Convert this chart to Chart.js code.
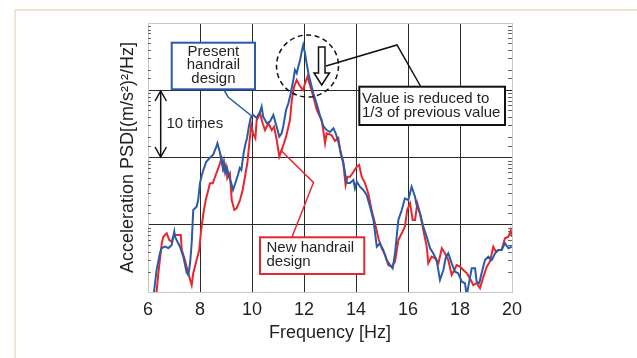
<!DOCTYPE html>
<html><head><meta charset="utf-8">
<script src="https://cdn.jsdelivr.net/npm/chart.js@4/dist/chart.umd.min.js"></script>
<style>
html,body{margin:0;padding:0;background:#fff;}
#wrap{position:relative;width:637px;height:358px;overflow:hidden;}
#frame{position:absolute;left:14px;top:9px;right:-4px;bottom:-4px;border-top:2px solid #efe4cd;border-left:2px solid #efe4cd;}
canvas{position:absolute;left:0;top:0;}
</style></head><body>
<div id="wrap"><div id="frame"></div><canvas id="c" width="637" height="358"></canvas></div>
<script>
// Frequency axis ticks (Hz)
const xTicks = [6, 8, 10, 12, 14, 16, 18, 20];
// Present handrail design (blue)
const blueFreq = [6.23,6.33,6.46,6.53,6.65,6.78,6.85,6.91,6.97,7.01,7.04,7.10,7.23,7.36,7.49,7.55,7.62,7.68,7.74,7.87,7.93,8.00,8.07,8.13,8.24,8.37,8.50,8.63,8.67,8.76,8.82,8.88,8.92,8.97,9.04,9.10,9.20,9.27,9.36,9.46,9.53,9.59,9.68,9.74,9.81,9.87,9.95,10.04,10.18,10.31,10.37,10.43,10.57,10.69,10.82,10.95,11.05,11.14,11.20,11.31,11.40,11.49,11.59,11.65,11.72,11.78,11.85,11.91,11.97,12.04,12.10,12.17,12.23,12.36,12.49,12.62,12.74,12.87,13.00,13.13,13.22,13.32,13.41,13.51,13.64,13.77,13.90,13.96,14.03,14.15,14.28,14.41,14.54,14.67,14.80,14.92,15.05,15.18,15.31,15.41,15.50,15.63,15.76,15.88,16.01,16.14,16.27,16.33,16.46,16.59,16.72,16.85,16.97,17.10,17.23,17.36,17.46,17.55,17.68,17.81,17.93,18.07,18.19,18.26,18.32,18.45,18.58,18.64,18.74,18.83,18.96,19.09,19.22,19.35,19.47,19.60,19.73,19.86,19.99];
const blueVal = [1.0,2.12,3.8,4.51,4.72,4.51,4.72,5.0,6.64,7.88,6.64,5.93,4.72,3.35,1.92,1.79,2.70,5.35,16.6,18.6,23.3,41.8,54.9,65.2,86.6,98.3,109,145,163,122,91.8,69.8,86.6,58.9,69.8,54.9,41.8,32.9,41.8,54.9,69.8,65.2,117,153,195,275,387,429,387,480,569,404,323,341,429,287,204,229,287,509,640,901,1420,2000,1787,2239,2818,3741,4710,3540,2518,1787,1420,901,625,414,294,256,239,272,229,170,121,85.7,41.8,41.8,46.3,34.8,43.7,36.8,32.9,27.7,18.6,11.8,4.72,5.30,4.21,2.99,2.52,2.25,3.76,11.8,16.6,24.7,23.3,36.8,26.1,19.7,14.8,9.35,6.64,4.47,3.76,2.99,1.51,2.12,3.35,3.76,2.67,2.00,1.90,1.42,1.35,0.9,1.20,2.25,2.25,1.42,1.35,1.90,2.99,3.35,2.99,3.76,4.21,4.21,5.30,4.47,4.72];
// New handrail design (red)
const redFreq = [6.33,6.40,6.53,6.59,6.72,6.82,6.91,6.97,7.04,7.17,7.26,7.30,7.42,7.55,7.68,7.74,7.87,7.97,8.03,8.13,8.22,8.32,8.38,8.49,8.58,8.70,8.77,8.83,8.90,8.99,9.05,9.15,9.22,9.32,9.41,9.54,9.64,9.73,9.82,9.91,9.97,10.04,10.13,10.18,10.31,10.41,10.50,10.63,10.76,10.85,10.95,11.05,11.14,11.23,11.31,11.40,11.46,11.53,11.62,11.72,11.82,11.91,11.97,12.04,12.13,12.23,12.36,12.49,12.62,12.68,12.74,12.81,12.87,13.06,13.19,13.32,13.41,13.51,13.60,13.67,13.77,13.90,14.03,14.12,14.22,14.35,14.47,14.60,14.73,14.86,14.99,15.12,15.24,15.37,15.50,15.63,15.76,15.88,15.97,16.08,16.18,16.27,16.36,16.46,16.59,16.72,16.78,16.91,17.04,17.17,17.30,17.42,17.55,17.68,17.78,17.87,18.00,18.13,18.26,18.38,18.51,18.64,18.77,18.90,19.03,19.15,19.28,19.38,19.47,19.60,19.73,19.86,19.95,20.0];
const redVal = [1.0,1.92,5.30,6.64,7.46,5.93,5.60,6.64,7.04,7.04,7.04,4.21,2.99,1.90,1.27,1.90,2.99,4.21,7.46,14.8,23.3,32.9,41.3,41.3,51.8,69.1,82.0,97.3,65.2,77.3,49.1,58.2,23.3,16.6,17.6,23.3,32.9,51.8,82.0,182,304,229,193,361,454,323,256,323,256,287,182,103,129,163,204,287,361,716,1130,1420,1197,1069,1009,1268,1589,1197,802,509,400,361,256,163,229,216,176,195,115,82.0,39.0,51.8,51.8,60.9,73.0,77.3,51.8,41.3,29.4,16.6,10.5,6.29,4.47,3.55,2.52,2.38,2.82,5.93,7.46,9.35,16.6,20.8,11.8,11.8,20.8,14.8,8.36,4.72,2.67,3.35,3.17,2.67,4.47,3.76,2.99,1.79,2.12,2.52,2.38,2.12,1.90,1.60,1.27,1.35,1.14,1.69,2.38,2.82,4.72,3.97,4.21,4.21,6.29,6.64,8.36,6.64];

const FONT = '"Liberation Sans", Arial, sans-serif';
const TXT = '#231f20';
const BLUE = '#2a5ba8';
const RED = '#e8262d';
const LIGHT = '#c8c8c8';
const DARK = '#2a2a2a';

const toXY = (f, v) => f.map((x, i) => ({x: x, y: v[i]}));
const isDecade = v => Math.abs(Math.log10(v) - Math.round(Math.log10(v))) < 1e-9;

const minorTicks = {
  id: 'minorTicks',
  afterDatasetsDraw(chart) {
    const ctx = chart.ctx, ys = chart.scales.y, ca = chart.chartArea;
    ctx.save();
    ctx.strokeStyle = '#666';
    ctx.lineWidth = 1;
    ys.ticks.forEach(t => {
      if (isDecade(t.value)) return;
      const y = Math.round(ys.getPixelForValue(t.value)) + 0.5;
      ctx.beginPath();
      ctx.moveTo(ca.left, y); ctx.lineTo(ca.left + 3, y);
      ctx.moveTo(ca.right - 4, y); ctx.lineTo(ca.right, y);
      ctx.stroke();
    });
    ctx.restore();
  }
};

const annot = {
  id: 'annot',
  afterDraw(chart) {
    const ctx = chart.ctx, ca = chart.chartArea;
    const X = px => ca.left + (px - 148) * (ca.right - ca.left) / 364;
    const Y = py => ca.top + (py - 23) * (ca.bottom - ca.top) / 269;
    const poly = (pts) => { ctx.beginPath(); pts.forEach((p, i) => i ? ctx.lineTo(X(p[0]), Y(p[1])) : ctx.moveTo(X(p[0]), Y(p[1]))); };
    ctx.save();
    ctx.font = '15px ' + FONT;
    ctx.textBaseline = 'middle';

    // blue leader + box
    ctx.strokeStyle = BLUE; ctx.lineWidth = 1.5;
    poly([[223.5, 89], [228.3, 97.3], [251.7, 116]]); ctx.stroke();
    ctx.fillStyle = '#fff'; ctx.lineWidth = 2;
    ctx.fillRect(X(171.7), Y(42.7), X(255) - X(171.7), Y(89.3) - Y(42.7));
    ctx.strokeRect(X(171.7), Y(42.7), X(255) - X(171.7), Y(89.3) - Y(42.7));
    ctx.fillStyle = TXT; ctx.textAlign = 'center';
    ctx.fillText('Present', X(213.4), Y(52));
    ctx.fillText('handrail', X(213.4), Y(65.3));
    ctx.fillText('design', X(213.4), Y(78.6));

    // 10 times arrow
    ctx.strokeStyle = '#111'; ctx.lineWidth = 1.5;
    poly([[160.7, 91], [160.7, 157]]); ctx.stroke();
    poly([[155, 101], [160.7, 91], [166.4, 101]]); ctx.stroke();
    poly([[155, 147], [160.7, 157], [166.4, 147]]); ctx.stroke();
    ctx.textAlign = 'left';
    ctx.fillText('10 times', X(166.5), Y(123.5));

    // dashed circle
    ctx.setLineDash([5, 3.5]);
    ctx.beginPath();
    ctx.arc(X(307.5), Y(66), 31, 0, Math.PI * 2);
    ctx.stroke();
    ctx.setLineDash([]);

    // hollow down arrow
    ctx.fillStyle = '#fff';
    poly([[318.5, 47], [325, 47], [325, 73], [329.5, 73], [321.7, 85], [314, 73], [318.5, 73]]);
    ctx.closePath(); ctx.fill(); ctx.stroke();

    // black leader to callout
    poly([[326, 66], [397, 45], [421, 87]]); ctx.stroke();
    ctx.fillStyle = '#fff'; ctx.lineWidth = 2;
    ctx.fillRect(X(359.3), Y(86.7), X(505) - X(359.3), Y(125) - Y(86.7));
    ctx.strokeRect(X(359.3), Y(86.7), X(505) - X(359.3), Y(125) - Y(86.7));
    ctx.fillStyle = TXT;
    ctx.fillText('Value is reduced to', X(362), Y(98.6));
    ctx.fillText('1/3 of previous value', X(362), Y(113));

    // red leader + box
    ctx.strokeStyle = RED; ctx.lineWidth = 1.5;
    poly([[280.5, 150], [313.5, 182.5], [292, 237]]); ctx.stroke();
    ctx.fillStyle = '#fff'; ctx.lineWidth = 2;
    ctx.fillRect(X(260), Y(237.3), X(364.3) - X(260), Y(274) - Y(237.3));
    ctx.strokeRect(X(260), Y(237.3), X(364.3) - X(260), Y(274) - Y(237.3));
    ctx.fillStyle = TXT;
    ctx.fillText('New handrail', X(266.5), Y(248));
    ctx.fillText('design', X(266.5), Y(262.3));
    ctx.restore();
  }
};

new Chart(document.getElementById('c'), {
  type: 'line',
  data: {
    datasets: [
      {label: 'Present handrail design', data: toXY(blueFreq, blueVal), borderColor: BLUE, borderWidth: 2, pointRadius: 0, tension: 0, fill: false},
      {label: 'New handrail design', data: toXY(redFreq, redVal), borderColor: RED, borderWidth: 2, pointRadius: 0, tension: 0, fill: false}
    ]
  },
  options: {
    responsive: false,
    animation: false,
    devicePixelRatio: 1,
    layout: {padding: {top: 23, right: 125, left: 0, bottom: 0}},
    plugins: {legend: {display: false}, tooltip: {enabled: false}},
    scales: {
      x: {
        type: 'linear', min: 6, max: 20,
        afterBuildTicks: s => { s.ticks = xTicks.map(v => ({value: v})); },
        afterFit: s => { s.height = 66; },
        grid: {color: c => (c.tick && (c.tick.value === 6 || c.tick.value === 20)) ? LIGHT : DARK, lineWidth: 1, drawTicks: false},
        border: {color: LIGHT, width: 1},
        ticks: {color: TXT, font: {family: FONT, size: 18}, padding: 7, maxRotation: 0},
        title: {display: true, text: 'Frequency [Hz]', color: TXT, font: {family: FONT, size: 18}, padding: {top: 0, bottom: 14}}
      },
      y: {
        type: 'logarithmic', min: 1, max: 10000,
        afterFit: s => { s.width = 148; },
        grid: {color: c => {
          if (!c.tick) return 'rgba(0,0,0,0)';
          const v = c.tick.value;
          if (v === 1 || v === 10000) return LIGHT;
          return isDecade(v) ? DARK : 'rgba(0,0,0,0)';
        }, lineWidth: 1, drawTicks: false},
        border: {color: LIGHT, width: 1},
        ticks: {display: false},
        title: {display: true, text: 'Acceleration PSD[(m/s²)²/Hz]', color: TXT, font: {family: FONT, size: 18}, padding: {top: 117, bottom: 0}}
      }
    }
  },
  plugins: [minorTicks, annot]
});
</script>
</body></html>
